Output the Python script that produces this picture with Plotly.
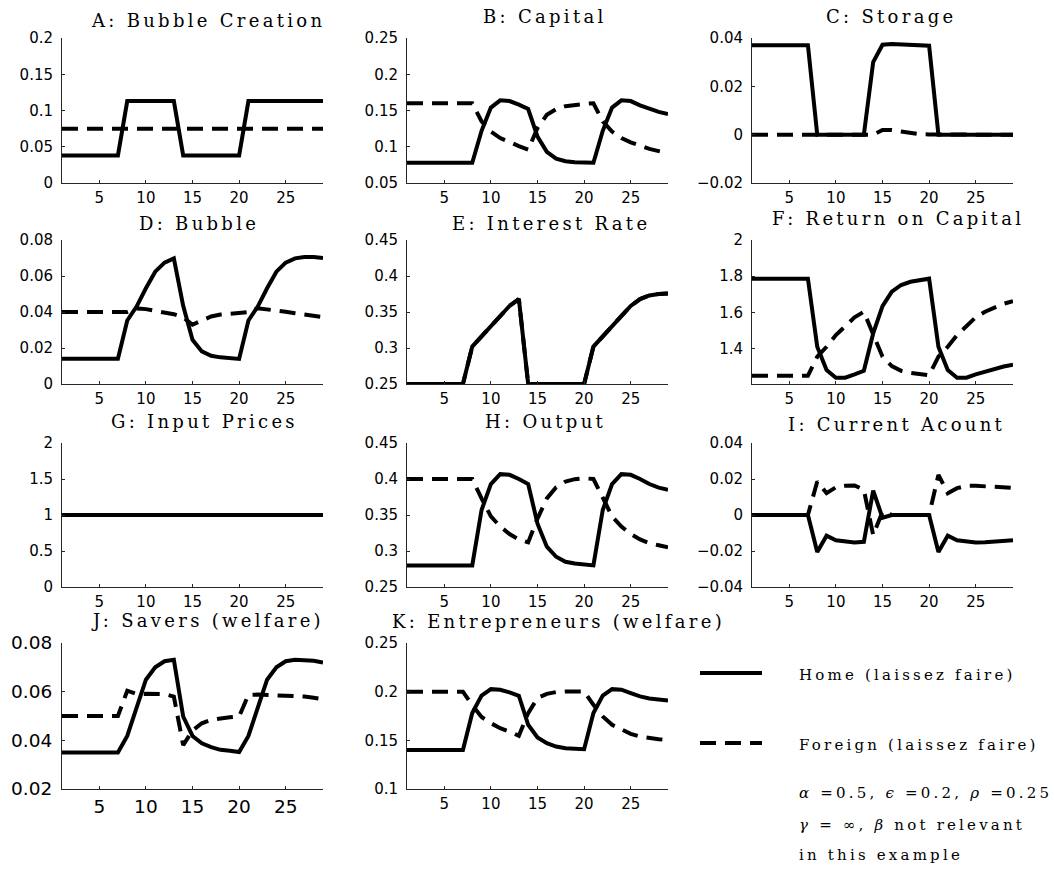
import plotly.graph_objects as go

# ---------------------------------------------------------------------------
# Data: period index and home / foreign paths for each panel
# ---------------------------------------------------------------------------
periods = list(range(1, 30))

bubble_creation_home = [0.038, 0.038, 0.038, 0.038, 0.038, 0.038, 0.038, 0.113, 0.113, 0.113,
                        0.113, 0.113, 0.113, 0.038, 0.038, 0.038, 0.038, 0.038, 0.038, 0.038,
                        0.113, 0.113, 0.113, 0.113, 0.113, 0.113, 0.113, 0.113, 0.113]
bubble_creation_foreign = [0.075, 0.075, 0.075, 0.075, 0.075, 0.075, 0.075, 0.075, 0.075, 0.075,
                           0.075, 0.075, 0.075, 0.075, 0.075, 0.075, 0.075, 0.075, 0.075, 0.075,
                           0.075, 0.075, 0.075, 0.075, 0.075, 0.075, 0.075, 0.075, 0.075]

capital_home = [0.078, 0.078, 0.078, 0.078, 0.078, 0.078, 0.078, 0.078, 0.122, 0.154,
                0.164, 0.163, 0.158, 0.152, 0.114, 0.093, 0.0835, 0.080, 0.0785, 0.078,
                0.078, 0.122, 0.154, 0.164, 0.163, 0.157, 0.152, 0.148, 0.145]
capital_foreign = [0.160, 0.160, 0.160, 0.160, 0.160, 0.160, 0.160, 0.160, 0.135, 0.121,
                   0.112, 0.106, 0.101, 0.096, 0.126, 0.144, 0.152, 0.156, 0.158, 0.159,
                   0.160, 0.135, 0.121, 0.112, 0.106, 0.101, 0.097, 0.094, 0.091]

storage_home = [0.037, 0.037, 0.037, 0.037, 0.037, 0.037, 0.037, 0.0, 0.0, 0.0,
                0.0, 0.0, 0.0, 0.030, 0.0372, 0.0375, 0.0373, 0.0371, 0.037, 0.0368,
                0.0, 0.0, 0.0, 0.0, 0.0, 0.0, 0.0, 0.0, 0.0]
storage_foreign = [0.0, 0.0, 0.0, 0.0, 0.0, 0.0, 0.0, 0.0, 0.0, 0.0,
                   0.0, 0.0, 0.0, 0.0, 0.0019, 0.0019, 0.0013, 0.0006, 0.0002, 0.0001,
                   0.0, 0.0, 0.0, 0.0, 0.0, 0.0, 0.0, 0.0, 0.0]

bubble_home = [0.014, 0.014, 0.014, 0.014, 0.014, 0.014, 0.014, 0.0353, 0.043, 0.0532,
               0.0624, 0.0674, 0.0698, 0.0434, 0.0246, 0.0181, 0.0157, 0.0148, 0.0142, 0.0139,
               0.0353, 0.043, 0.0532, 0.0624, 0.0674, 0.0698, 0.0706, 0.0706, 0.0700]
bubble_foreign = [0.040, 0.040, 0.040, 0.040, 0.040, 0.040, 0.040, 0.040, 0.042, 0.0416,
                  0.0406, 0.0397, 0.0388, 0.0371, 0.0329, 0.0353, 0.0375, 0.0386, 0.0392, 0.0395,
                  0.0399, 0.0421, 0.0416, 0.0408, 0.0401, 0.0393, 0.0386, 0.0379, 0.0371]

interest_home = [0.25, 0.25, 0.25, 0.25, 0.25, 0.25, 0.25, 0.302, 0.316, 0.332,
                 0.346, 0.3585, 0.368, 0.25, 0.25, 0.25, 0.25, 0.25, 0.25, 0.25,
                 0.302, 0.316, 0.332, 0.346, 0.3585, 0.368, 0.373, 0.375, 0.3756]
interest_foreign = [0.25, 0.25, 0.25, 0.25, 0.25, 0.25, 0.25, 0.302, 0.316, 0.332,
                    0.346, 0.3585, 0.368, 0.25, 0.25, 0.25, 0.25, 0.25, 0.25, 0.25,
                    0.302, 0.316, 0.332, 0.346, 0.3585, 0.368, 0.373, 0.375, 0.3756]

return_home = [1.786, 1.786, 1.786, 1.786, 1.786, 1.786, 1.786, 1.409, 1.280, 1.238,
               1.238, 1.256, 1.276, 1.483, 1.6345, 1.714, 1.751, 1.769, 1.778, 1.786,
               1.409, 1.280, 1.238, 1.238, 1.256, 1.272, 1.288, 1.300, 1.310]
return_foreign = [1.249, 1.249, 1.249, 1.249, 1.249, 1.249, 1.249, 1.354, 1.409, 1.474,
                  1.524, 1.572, 1.603, 1.483, 1.354, 1.302, 1.276, 1.265, 1.258, 1.252,
                  1.354, 1.409, 1.474, 1.524, 1.572, 1.603, 1.628, 1.647, 1.662]

input_prices_home = [1.0, 1.0, 1.0, 1.0, 1.0, 1.0, 1.0, 1.0, 1.0, 1.0,
                     1.0, 1.0, 1.0, 1.0, 1.0, 1.0, 1.0, 1.0, 1.0, 1.0,
                     1.0, 1.0, 1.0, 1.0, 1.0, 1.0, 1.0, 1.0, 1.0]
input_prices_foreign = [1.0, 1.0, 1.0, 1.0, 1.0, 1.0, 1.0, 1.0, 1.0, 1.0,
                        1.0, 1.0, 1.0, 1.0, 1.0, 1.0, 1.0, 1.0, 1.0, 1.0,
                        1.0, 1.0, 1.0, 1.0, 1.0, 1.0, 1.0, 1.0, 1.0]

output_home = [0.280, 0.280, 0.280, 0.280, 0.280, 0.280, 0.280, 0.280, 0.357, 0.393,
               0.4067, 0.4058, 0.400, 0.393, 0.338, 0.306, 0.292, 0.285, 0.2826, 0.281,
               0.280, 0.357, 0.393, 0.4067, 0.4058, 0.400, 0.393, 0.388, 0.385]
output_foreign = [0.400, 0.400, 0.400, 0.400, 0.400, 0.400, 0.400, 0.400, 0.373, 0.348,
                  0.334, 0.3235, 0.316, 0.312, 0.345, 0.373, 0.3886, 0.3965, 0.3998, 0.401,
                  0.400, 0.373, 0.348, 0.334, 0.3235, 0.316, 0.311, 0.308, 0.305]

current_account_home = [0.0, 0.0, 0.0, 0.0, 0.0, 0.0, 0.0, -0.0205, -0.0115, -0.014,
                        -0.0149, -0.0153, -0.0149, 0.0135, -0.0015, 0.0, 0.0, 0.0, 0.0, 0.0,
                        -0.0205, -0.0115, -0.014, -0.0149, -0.0153, -0.0151, -0.0147, -0.0143, -0.014]
current_account_foreign = [0.0, 0.0, 0.0, 0.0, 0.0, 0.0, 0.0, 0.0186, 0.0121, 0.0154,
                           0.0162, 0.0164, 0.014, -0.0112, 0.0019, 0.0, 0.0, 0.0, 0.0, 0.0,
                           0.0223, 0.0121, 0.0149, 0.0162, 0.0162, 0.0158, 0.0156, 0.0153, 0.0151]

savers_home = [0.035, 0.035, 0.035, 0.035, 0.035, 0.035, 0.035, 0.0418, 0.0532, 0.0649,
               0.070, 0.0725, 0.0731, 0.0498, 0.0418, 0.0388, 0.0372, 0.0361, 0.0357, 0.0352,
               0.0418, 0.0532, 0.0649, 0.070, 0.0725, 0.0731, 0.0731, 0.0727, 0.072]
savers_foreign = [0.050, 0.050, 0.050, 0.050, 0.050, 0.050, 0.050, 0.0604, 0.059, 0.0591,
                  0.059, 0.059, 0.058, 0.038, 0.044, 0.047, 0.0484, 0.0491, 0.0495, 0.0498,
                  0.0587, 0.0588, 0.0587, 0.0587, 0.0586, 0.0583, 0.058, 0.0575, 0.0569]

entrepreneurs_home = [0.140, 0.140, 0.140, 0.140, 0.140, 0.140, 0.140, 0.178, 0.196, 0.2026,
                      0.202, 0.1992, 0.1958, 0.166, 0.153, 0.147, 0.1436, 0.1419, 0.1412, 0.1409,
                      0.178, 0.196, 0.2026, 0.202, 0.1985, 0.1951, 0.193, 0.1917, 0.191]
entrepreneurs_foreign = [0.200, 0.200, 0.200, 0.200, 0.200, 0.200, 0.200, 0.186, 0.174, 0.1676,
                         0.1625, 0.159, 0.1546, 0.178, 0.1934, 0.1978, 0.1996, 0.2002, 0.2006, 0.2002,
                         0.1865, 0.1745, 0.1659, 0.1608, 0.1567, 0.1539, 0.1522, 0.1512, 0.1505]

# Tick values
x_ticks = [5, 10, 15, 20, 25]
ticks_A = [0, 0.05, 0.1, 0.15, 0.2]
ticks_B = [0.05, 0.1, 0.15, 0.2, 0.25]
ticks_C = [-0.02, 0, 0.02, 0.04]
ticks_D = [0, 0.02, 0.04, 0.06, 0.08]
ticks_E = [0.25, 0.3, 0.35, 0.4, 0.45]
ticks_F = [1.4, 1.6, 1.8, 2]
ticks_G = [0, 0.5, 1, 1.5, 2]
ticks_H = [0.25, 0.3, 0.35, 0.4, 0.45]
ticks_I = [-0.04, -0.02, 0, 0.02, 0.04]
ticks_J = [0.02, 0.04, 0.06, 0.08]
ticks_K = [0.1, 0.15, 0.2, 0.25]

panel_titles = ["A: Bubble Creation", "B: Capital", "C: Storage",
                "D: Bubble", "E: Interest Rate", "F: Return on Capital",
                "G: Input Prices", "H: Output", "I: Current Acount",
                "J: Savers (welfare)", "K: Entrepreneurs (welfare)"]

legend_labels = ["Home (laissez faire)", "Foreign (laissez faire)"]
note_lines = ["<i>α</i> =0.5, <i>ϵ</i> =0.2, <i>ρ</i> =0.25",
              "<i>γ</i> = ∞, <i>β</i> not relevant",
              "in this example"]

# ---------------------------------------------------------------------------
# Layout geometry (pixels on a 1055 x 880 canvas)
# ---------------------------------------------------------------------------
W, H = 1055, 880


def fx(px):
    return px / W


def fy(py):
    return 1 - py / H


col_px = [(62, 323), (407, 668), (752, 1013)]
row_px = [(38, 183), (240, 384), (443, 587), (643, 789)]

panels = [
    (panel_titles[0], bubble_creation_home, bubble_creation_foreign, [0, 0.2], ticks_A),
    (panel_titles[1], capital_home, capital_foreign, [0.05, 0.25], ticks_B),
    (panel_titles[2], storage_home, storage_foreign, [-0.02, 0.04], ticks_C),
    (panel_titles[3], bubble_home, bubble_foreign, [0, 0.08], ticks_D),
    (panel_titles[4], interest_home, interest_foreign, [0.25, 0.45], ticks_E),
    (panel_titles[5], return_home, return_foreign, [1.203, 2], ticks_F),
    (panel_titles[6], input_prices_home, input_prices_foreign, [0, 2], ticks_G),
    (panel_titles[7], output_home, output_foreign, [0.25, 0.45], ticks_H),
    (panel_titles[8], current_account_home, current_account_foreign, [-0.04, 0.04], ticks_I),
    (panel_titles[9], savers_home, savers_foreign, [0.02, 0.08], ticks_J),
    (panel_titles[10], entrepreneurs_home, entrepreneurs_foreign, [0.1, 0.25], ticks_K),
]

# title centre (x) and cap-height centre (y) for each panel, in pixels
title_pos = [(208, 20.5), (545, 17), (891, 17),
             (199, 223), (551, 223), (898, 218),
             (204.5, 421.5), (545, 421.5), (896.7, 425),
             (207.5, 620.5), (558.5, 621)]

SERIF = "DejaVu Serif, serif"
TITLE_FONT = dict(family=SERIF, size=18, color="black")
TEXT_FONT = dict(family=SERIF, size=15, color="black")
AXIS_COLOR = "#262626"
DASH = "16px,9px"
LW = 4

fig = go.Figure()
layout = dict(
    template="none",
    width=W, height=H,
    margin=dict(l=0, r=0, t=0, b=0, autoexpand=False),
    paper_bgcolor="white", plot_bgcolor="white",
    showlegend=False,
    annotations=[], shapes=[],
)

for i, (title, home, foreign, yr, yticks) in enumerate(panels):
    r, c = divmod(i, 3)
    n = "" if i == 0 else str(i + 1)
    xa, ya = "x" + n, "y" + n
    tick_size = 18.5 if i == 9 else 15

    fig.add_trace(go.Scatter(x=periods, y=home, mode="lines", xaxis=xa, yaxis=ya,
                             line=dict(color="black", width=LW), name=legend_labels[0]))
    fig.add_trace(go.Scatter(x=periods, y=foreign, mode="lines", xaxis=xa, yaxis=ya,
                             line=dict(color="black", width=LW, dash=DASH), name=legend_labels[1]))

    common = dict(showline=True, linecolor=AXIS_COLOR, linewidth=1, mirror=False,
                  showgrid=False, zeroline=False, ticks="inside", ticklen=3,
                  tickcolor=AXIS_COLOR, tickwidth=1, automargin=False,
                  tickfont=dict(family="DejaVu Sans, sans-serif",
                                size=tick_size, color="black"))
    layout["xaxis" + n] = dict(domain=[fx(col_px[c][0]), fx(col_px[c][1])], anchor=ya,
                               range=[1, 29], tickvals=x_ticks, ticklabelstandoff=1, **common)
    layout["yaxis" + n] = dict(domain=[fy(row_px[r][1]), fy(row_px[r][0])], anchor=xa,
                               range=yr, tickvals=yticks, ticklabelstandoff=5, **common)

    tx, ty = title_pos[i]
    layout["annotations"].append(dict(
        text='<span style="letter-spacing:3.3px">%s</span>' % title,
        x=fx(tx), y=fy(ty), xref="paper", yref="paper",
        xanchor="center", yanchor="middle", showarrow=False, font=TITLE_FONT))

# legend key and parameter notes
legend_rows = [(673, "solid", legend_labels[0]), (743, DASH, legend_labels[1])]
for y, dash, label in legend_rows:
    layout["shapes"].append(dict(type="line", xref="paper", yref="paper",
                                 x0=fx(700), x1=fx(762), y0=fy(y), y1=fy(y),
                                 line=dict(color="black", width=LW, dash=dash)))
    layout["annotations"].append(dict(
        text='<span style="letter-spacing:3.2px">%s</span>' % label,
        x=fx(797), y=fy(y + 2), xref="paper", yref="paper",
        xanchor="left", yanchor="middle", showarrow=False, font=TEXT_FONT))

for y, line in zip([793, 825, 855], note_lines):
    layout["annotations"].append(dict(
        text='<span style="letter-spacing:3.2px">%s</span>' % line,
        x=fx(797), y=fy(y), xref="paper", yref="paper",
        xanchor="left", yanchor="middle", showarrow=False, font=TEXT_FONT))

fig.update_layout(**layout)
fig.write_html("out.html")
